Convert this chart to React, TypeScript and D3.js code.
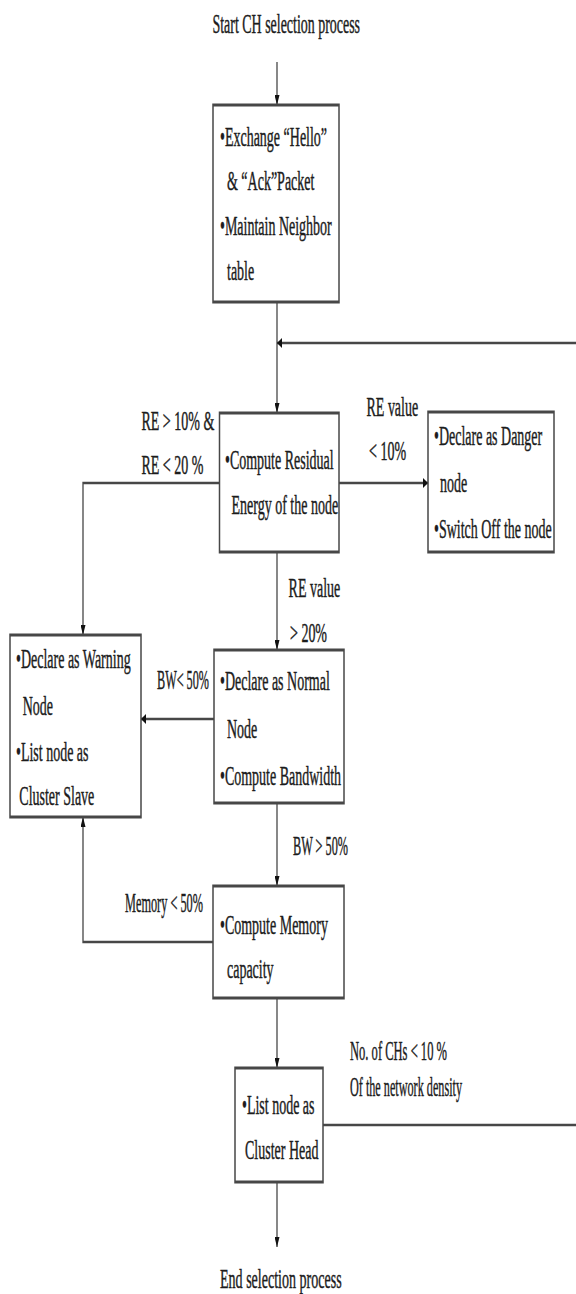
import React from "react";
import * as d3 from "d3";

// ---------- data (text content) ----------
const startTitle = "Start CH selection process";
const endTitle = "End selection process";

const boxLines: string[][] = [
  ["•Exchange  “Hello”", "& “Ack”Packet", "•Maintain Neighbor", "table"],
  ["•Compute Residual", "Energy of the node"],
  ["•Declare as Danger", "node", "•Switch Off the node"],
  ["•Declare as Warning", "Node", "•List node as", "Cluster Slave"],
  ["•Declare as Normal", "Node", "•Compute Bandwidth"],
  ["•Compute Memory", "capacity"],
  ["•List node as", "Cluster Head"],
];

const labelLines: string[][] = [
  ["RE > 10% &", "RE < 20 %"],
  ["RE value", "< 10%"],
  ["RE value", "> 20%"],
  ["BW< 50%"],
  ["BW > 50%"],
  ["Memory < 50%"],
  ["No. of CHs < 10 %", "Of the network density"],
];

// ---------- layout (pixel space of the reference) ----------
const W = 576;
const H = 1294;
const SX = 0.5; // horizontal compression of the whole drawing

const boxRects = [
  { x0: 213, x1: 339, y0: 105, y1: 302 },
  { x0: 219.5, x1: 339, y0: 413, y1: 552 },
  { x0: 428, x1: 554, y0: 412, y1: 552 },
  { x0: 10, x1: 141, y0: 635, y1: 817 },
  { x0: 214, x1: 344, y0: 650, y1: 803 },
  { x0: 213, x1: 344, y0: 886, y1: 998 },
  { x0: 235, x1: 323, y0: 1068, y1: 1182 },
];
const boxLineX = [
  [220, 227, 220, 227],
  [225, 231.5],
  [434, 440, 434],
  [16, 22.7, 16, 19.3],
  [220, 227, 220],
  [220, 227],
  [242, 245],
];
const boxLineY = [
  [146, 190, 235, 280],
  [469, 514],
  [445, 492, 538],
  [668, 715, 761, 805],
  [690, 738, 785],
  [934, 978],
  [1114, 1159],
];

const labelX = [
  [141.5, 141.5],
  [366.5, 369],
  [288.6, 290],
  [157],
  [293],
  [125],
  [350, 350],
];
const labelY = [
  [430, 474],
  [416, 460],
  [597, 642],
  [689],
  [855],
  [912],
  [1060, 1096],
];
const labelLen: (number | null)[][] = [
  [null, null],
  [null, null],
  [null, null],
  [52],
  [55],
  [78],
  [97, 112],
];

const connectors: { pts: [number, number][]; arrow: boolean }[] = [
  { pts: [[277, 62], [277, 105]], arrow: true },
  { pts: [[277, 302], [277, 413]], arrow: true },
  { pts: [[576, 343], [277, 343]], arrow: true },
  { pts: [[339, 483], [428, 483]], arrow: true },
  { pts: [[219.5, 483], [83, 483], [83, 635]], arrow: true },
  { pts: [[277, 552], [277, 650]], arrow: true },
  { pts: [[214, 719], [141, 719]], arrow: true },
  { pts: [[277, 803], [277, 886]], arrow: true },
  { pts: [[213, 942], [83, 942], [83, 817]], arrow: true },
  { pts: [[277, 998], [277, 1068]], arrow: true },
  { pts: [[323, 1125], [576, 1125]], arrow: false },
  { pts: [[277, 1182], [277, 1247]], arrow: true },
];

const FONT = "'Liberation Serif', 'Times New Roman', serif";
const LINE = "#474747";
const INK = "#1c1c1c";

export default function App() {
  const xs = d3.scaleLinear().domain([0, W]).range([0, W / SX]);
  const ys = d3.scaleLinear().domain([0, H]).range([0, H]);
  const line = d3
    .line<[number, number]>()
    .x((d) => xs(d[0]))
    .y((d) => ys(d[1]));

  return (
    <svg
      width={W}
      height={H}
      viewBox={`0 0 ${W / SX} ${H}`}
      preserveAspectRatio="none"
      style={{ position: "absolute", left: 0, top: 0, background: "#fff" }}
    >
      <defs>
        <marker
          id="ah"
          viewBox="0 0 10 10"
          refX={10}
          refY={5}
          markerWidth={10}
          markerHeight={10}
          markerUnits="userSpaceOnUse"
          orient="auto"
          preserveAspectRatio="none"
        >
          <path d="M0,0 L10,5 L0,10 z" fill="#111" />
        </marker>
      </defs>
      <rect x={0} y={0} width={W / SX} height={H} fill="#fff" />

      {connectors.map((c, i) => (
        <path
          key={"c" + i}
          d={line(c.pts) || ""}
          fill="none"
          stroke={LINE}
          strokeWidth={2.6}
          markerEnd={c.arrow ? "url(#ah)" : undefined}
        />
      ))}

      {boxRects.map((b, i) => (
        <rect
          key={"b" + i}
          x={xs(b.x0)}
          y={ys(b.y0)}
          width={xs(b.x1) - xs(b.x0)}
          height={ys(b.y1) - ys(b.y0)}
          fill="#fff"
          stroke={LINE}
          strokeWidth={3}
        />
      ))}

      <g
        fontFamily={FONT}
        fontSize={28}
        fill={INK}
        stroke={INK}
        strokeWidth={0.45}
        style={{ whiteSpace: "pre" }}
      >
        <text x={xs(212.5)} y={ys(33)} textLength={xs(147.5)} lengthAdjust="spacingAndGlyphs">
          {startTitle}
        </text>
        <text x={xs(220)} y={ys(1288)} textLength={xs(121.7)} lengthAdjust="spacingAndGlyphs">
          {endTitle}
        </text>
        {boxLines.map((lines, i) =>
          lines.map((t, j) => (
            <text key={`bt${i}-${j}`} x={xs(boxLineX[i][j])} y={ys(boxLineY[i][j])}>
              {t}
            </text>
          ))
        )}
        {labelLines.map((lines, i) =>
          lines.map((t, j) => {
            const len = labelLen[i][j];
            return (
              <text
                key={`lt${i}-${j}`}
                x={xs(labelX[i][j])}
                y={ys(labelY[i][j])}
                textLength={len ? xs(len) : undefined}
                lengthAdjust={len ? "spacingAndGlyphs" : undefined}
              >
                {t}
              </text>
            );
          })
        )}
      </g>
    </svg>
  );
}
